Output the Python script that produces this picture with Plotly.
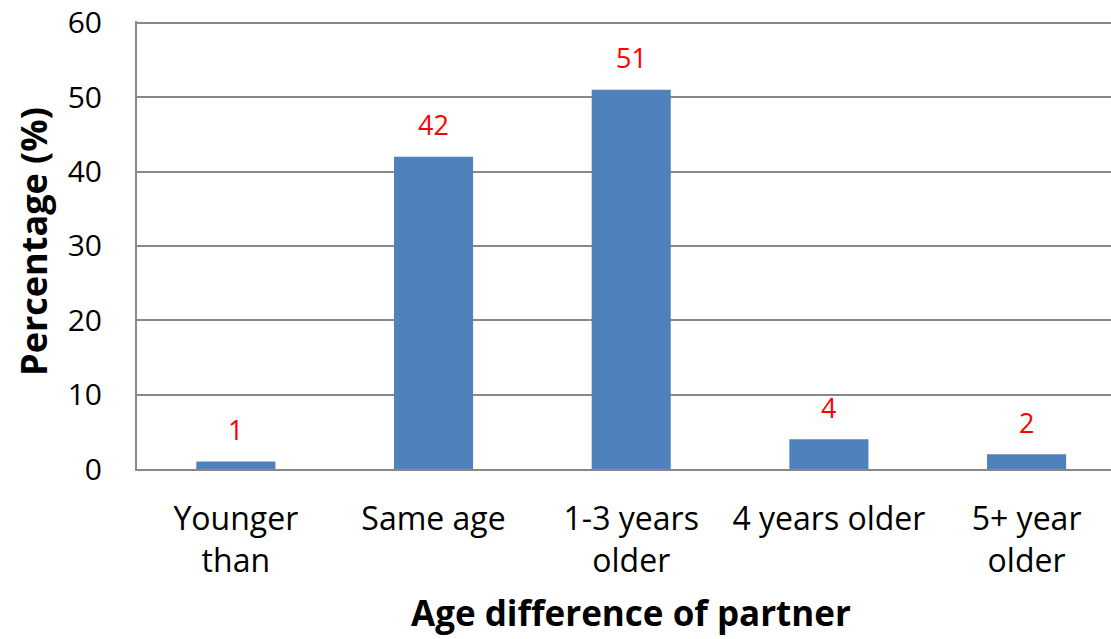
import plotly.graph_objects as go

categories = ["Younger<br>than", "Same age", "1-3 years<br>older", "4 years older", "5+ year<br>older"]
values = [1, 42, 51, 4, 2]
y_ticks = [0, 10, 20, 30, 40, 50, 60]

FONT = "Open Sans, Liberation Sans, sans-serif"
xpos = list(range(len(categories)))

fig = go.Figure()
fig.add_trace(go.Bar(
    x=xpos, y=values, width=0.4,
    marker=dict(color="#4F81BD", line=dict(width=0)),
    hoverinfo="skip",
))

for x, v in zip(xpos, values):
    fig.add_annotation(x=x, y=v, xref="x", yref="y", text=str(v), showarrow=False,
                       yanchor="middle", yshift=32,
                       font=dict(family=FONT, size=27, color="#FF0000"))

fig.add_annotation(x=2, y=-0.3206, xref="x", yref="paper", text="<b>Age difference of partner</b>",
                   showarrow=False, xanchor="center", yanchor="middle",
                   font=dict(family=FONT, size=35, color="#000000"))
fig.add_annotation(x=-0.1063, y=0.508, xref="paper", yref="paper", text="<b>Percentage (%)</b>",
                   showarrow=False, textangle=-90, xanchor="center", yanchor="middle",
                   font=dict(family=FONT, size=36, color="#000000"))

fig.update_layout(
    width=1111, height=639,
    margin=dict(l=137, r=0, t=21, b=170),
    paper_bgcolor="white", plot_bgcolor="white",
    showlegend=False,
    font=dict(family=FONT, color="#000000"),
    xaxis=dict(
        range=[-0.5, 4.427], tickmode="array", tickvals=xpos, ticktext=categories,
        showgrid=False, zeroline=False, showline=True, linecolor="#888888", linewidth=2,
        ticks="", tickfont=dict(family=FONT, size=32, color="#000000"),
        ticklabelstandoff=21, ticklabeloverflow="allow",
    ),
    yaxis=dict(
        range=[0, 60.25], tickmode="array", tickvals=y_ticks,
        showgrid=True, gridcolor="#888888", gridwidth=2,
        zeroline=False, showline=True, linecolor="#888888", linewidth=2,
        ticks="", tickfont=dict(family=FONT, size=30, color="#000000"),
        ticklabelstandoff=27, ticklabeloverflow="allow",
    ),
)

fig.write_html("out.html", config={"displayModeBar": False},
               post_script="document.body.style.margin='0px';document.body.style.overflow='hidden';")
